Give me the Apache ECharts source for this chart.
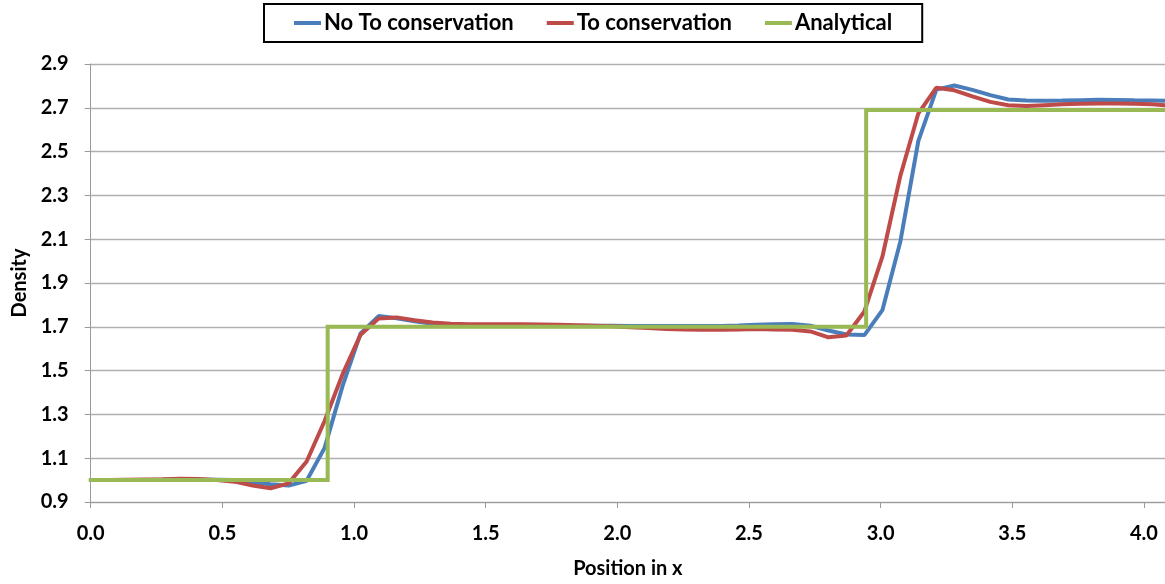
<!DOCTYPE html>
<html>
<head>
<meta charset="utf-8">
<script src="https://cdn.jsdelivr.net/npm/echarts@6/dist/echarts.min.js"></script>
<style>
  html, body { margin: 0; padding: 0; background: #ffffff; }
  #chart { width: 1165px; height: 584px; }
</style>
</head>
<body>
<div id="chart"></div>
<script>
// Cell positions along x (uniform spacing, 61 nodes over [0, 4.1])
const nodeCount = 61;
const dx = 4.1 / 60;

// Density without To conservation
const noToConservation = [
  1.000, 1.000, 1.001, 1.001, 1.002, 1.002, 1.002, 1.002, 1.000, 0.990,
  0.981, 0.975, 0.997, 1.147, 1.430, 1.670, 1.749, 1.739, 1.725, 1.714,
  1.708, 1.706, 1.705, 1.705, 1.705, 1.705, 1.705, 1.705, 1.705, 1.705,
  1.704, 1.704, 1.704, 1.704, 1.704, 1.704, 1.706, 1.709, 1.712, 1.713,
  1.705, 1.683, 1.665, 1.662, 1.776, 2.090, 2.549, 2.783, 2.802, 2.782,
  2.758, 2.738, 2.733, 2.732, 2.733, 2.735, 2.737, 2.736, 2.734, 2.733,
  2.732
];

// Density with To conservation
const toConservation = [
  1.000, 1.000, 1.002, 1.003, 1.004, 1.006, 1.005, 1.000, 0.993, 0.975,
  0.963, 0.985, 1.085, 1.270, 1.484, 1.664, 1.738, 1.743, 1.730, 1.720,
  1.714, 1.712, 1.712, 1.712, 1.712, 1.711, 1.709, 1.707, 1.705, 1.702,
  1.698, 1.694, 1.690, 1.688, 1.687, 1.687, 1.688, 1.690, 1.688, 1.686,
  1.679, 1.652, 1.660, 1.770, 2.020, 2.390, 2.675, 2.792, 2.780, 2.752,
  2.727, 2.712, 2.708, 2.712, 2.716, 2.718, 2.720, 2.720, 2.718, 2.716,
  2.710
];

// Analytical step profile: breakpoints in x and density
const analyticalX = [0.0, 0.9, 0.9, 2.945, 2.945, 4.1];
const analyticalY = [1.0, 1.0, 1.7, 1.7, 2.69, 2.69];

// Axis settings
const xTicks = { min: 0, max: 4.08, interval: 0.5 };
const yTicks = { min: 0.9, max: 2.9, interval: 0.2 };

const seriesNames = ['No To conservation', 'To conservation', 'Analytical'];
const seriesColors = ['#4a7ebb', '#be4b48', '#98b954'];

const xNodes = Array.from({ length: nodeCount }, (_, i) => i * dx);
const pairs = (xs, ys) => xs.map((x, i) => [x, ys[i]]);

const fontFamily = 'Lato, "Liberation Sans", sans-serif';
const labelStyle = { fontFamily: fontFamily, fontSize: 20, fontWeight: 'bold', color: '#000000' };
const chart = echarts.init(document.getElementById('chart'), null, { renderer: 'canvas' });

chart.setOption({
  animation: false,
  backgroundColor: '#ffffff',
  textStyle: { fontFamily: fontFamily },
  legend: {
    left: 264,
    top: 4,
    padding: [8, 30, 8, 30],
    borderColor: '#000000',
    borderWidth: 2,
    itemGap: 33,
    itemWidth: 27,
    itemHeight: 4,
    icon: 'rect',
    textStyle: { fontFamily: fontFamily, fontSize: 22, fontWeight: 'bold', color: '#000000', padding: [0, 0, 0, -2] },
    data: seriesNames
  },
  grid: { left: 90.7, right: 0, top: 64, bottom: 75, containLabel: false },
  xAxis: {
    type: 'value',
    min: xTicks.min,
    max: xTicks.max,
    interval: xTicks.interval,
    name: 'Position in x',
    nameLocation: 'middle',
    nameGap: 57,
    nameTextStyle: labelStyle,
    axisLine: { show: true, onZero: false, lineStyle: { color: '#9a9a9a', width: 1 } },
    axisTick: { show: true, length: 6, lineStyle: { color: '#9a9a9a' } },
    splitLine: { show: false },
    axisLabel: Object.assign({
      margin: 22,
      showMaxLabel: false,
      formatter: v => (Math.abs(v / xTicks.interval - Math.round(v / xTicks.interval)) < 1e-6 ? v.toFixed(1) : '')
    }, labelStyle)
  },
  yAxis: {
    type: 'value',
    min: yTicks.min,
    max: yTicks.max,
    interval: yTicks.interval,
    name: 'Density',
    nameLocation: 'middle',
    nameGap: 60,
    nameRotate: 90,
    nameTextStyle: labelStyle,
    axisLine: { show: true, lineStyle: { color: '#9a9a9a', width: 1 } },
    axisTick: { show: true, length: 6, lineStyle: { color: '#9a9a9a' } },
    splitLine: { show: true, lineStyle: { color: '#b0b0b0', width: 1.3 } },
    axisLabel: Object.assign({
      margin: 22,
      formatter: v => v.toFixed(1)
    }, labelStyle)
  },
  series: [
    {
      name: seriesNames[0], type: 'line', showSymbol: false, symbol: 'none',
      data: pairs(xNodes, noToConservation),
      lineStyle: { color: seriesColors[0], width: 4 }, itemStyle: { color: seriesColors[0] }
    },
    {
      name: seriesNames[1], type: 'line', showSymbol: false, symbol: 'none',
      data: pairs(xNodes, toConservation),
      lineStyle: { color: seriesColors[1], width: 4 }, itemStyle: { color: seriesColors[1] }
    },
    {
      name: seriesNames[2], type: 'line', showSymbol: false, symbol: 'none',
      data: pairs(analyticalX, analyticalY),
      lineStyle: { color: seriesColors[2], width: 4, join: 'miter', cap: 'square' }, itemStyle: { color: seriesColors[2] }
    }
  ]
});
</script>
</body>
</html>
